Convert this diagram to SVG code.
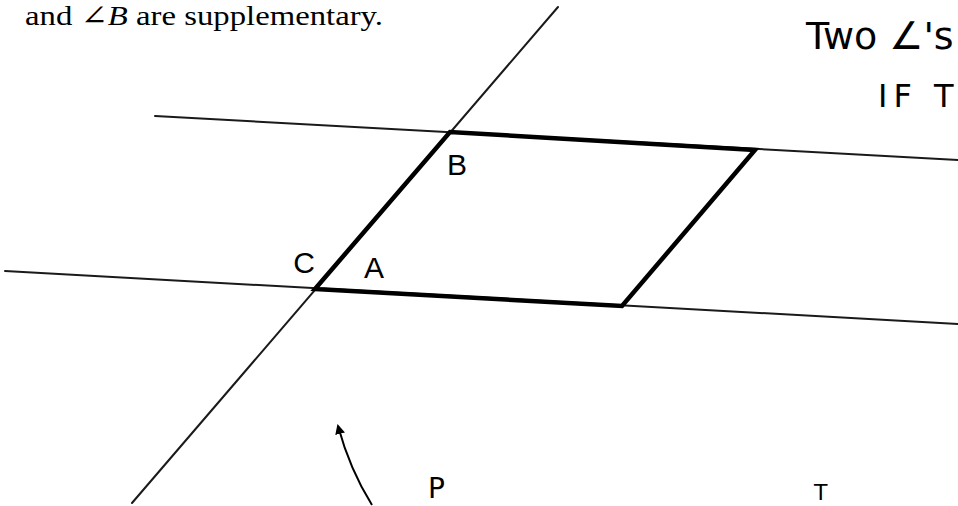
<svg xmlns="http://www.w3.org/2000/svg" width="958" height="506" viewBox="0 0 958 506">
  <defs>
    <style>
      .thin { stroke: #1a1a1a; stroke-width: 2; fill: none; stroke-linecap: round; }
      .thick { stroke: #000; stroke-width: 4.5; fill: none; stroke-linejoin: miter; }
      .hand { font-family: "DejaVu Sans", "Liberation Sans", sans-serif; fill: #000; }
      .label { font-family: "Liberation Sans", "DejaVu Sans", sans-serif; font-size: 30px; fill: #000; text-anchor: middle; }
      .tex { font-family: "Liberation Serif", "DejaVu Serif", serif; font-size: 28px; fill: #000; }
    </style>
    <marker id="arrowhead" markerWidth="10" markerHeight="10" refX="8" refY="5" orient="auto" markerUnits="userSpaceOnUse">
      <path d="M0,0 L10,5 L0,10 Z" fill="#000"/>
    </marker>
  </defs>
  <rect width="958" height="506" fill="#fff"/>

  <text class="tex" x="25" y="25" textLength="358" lengthAdjust="spacingAndGlyphs">and ∠<tspan font-style="italic">B</tspan> are supplementary.</text>

  <g id="connectors">
    <line id="transversal" class="thin" x1="132" y1="503" x2="558" y2="7"/>
    <line id="upper-line" class="thin" x1="155" y1="116" x2="958" y2="160"/>
    <line id="lower-line" class="thin" x1="5" y1="271" x2="958" y2="324"/>
    <path id="pointer-arrow" d="M372,505 Q350,470 338,426" stroke="#000" stroke-width="2" fill="none" marker-end="url(#arrowhead)"/>
  </g>

  <g id="parallelogram">
    <polygon class="thick" points="315,289 450,132 755,150 622,306"/>
  </g>

  <g id="label-B"><text class="label" x="457" y="175">B</text></g>
  <g id="label-C"><text class="label" x="304" y="273">C</text></g>
  <g id="label-A"><text class="label" x="374" y="278">A</text></g>

  <g id="note-top">
    <text class="hand" x="806" y="49" font-size="38">Two ∠'s</text>
    <text class="hand" x="878" y="107" font-size="32" letter-spacing="6">IF T</text>
  </g>

  <g id="note-bottom">
    <text class="hand" x="428" y="498" font-size="28">P</text>
    <text class="hand" x="814" y="500" font-size="22">T</text>
  </g>
</svg>
